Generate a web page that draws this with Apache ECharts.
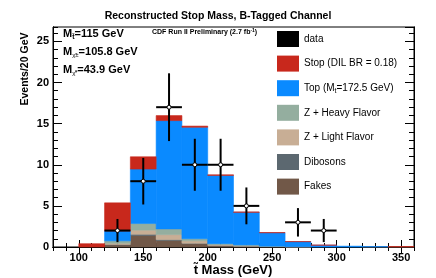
<!DOCTYPE html>
<html><head><meta charset="utf-8">
<script src="https://cdn.jsdelivr.net/npm/echarts@6/dist/echarts.min.js"></script>
<style>html,body{margin:0;padding:0;background:#fff}#c{width:436px;height:278px}</style>
</head><body><div id="c"></div>
<script>
// ---- data ----
const binEdges = [80,100,120,140,160,180,200,220,240,260,280,300,320,340,360];
const fakes    = [0, 0,    0.25, 1.4,  0.8,  0.4,  0.15, 0.08, 0.05, 0.02, 0,    0,    0.02, 0.02];
const dibosons = [0, 0,    0.05, 0.15, 0.1,  0.05, 0.03, 0.02, 0.01, 0,    0,    0,    0,    0];
const zLight   = [0, 0,    0.15, 0.5,  0.6,  0.3,  0.12, 0.1,  0.03, 0.01, 0,    0,    0,    0];
const zHeavy   = [0, 0,    0.3,  0.8,  0.7,  0.25, 0.1,  0.05, 0.01, 0,    0,    0,    0,    0];
const topQ     = [0, 0,    1.2,  6.63, 13.17,13.56,8.3,  3.97, 1.63, 0.62, 0.22, 0.1,  0.03, 0];
const stopQ    = [0, 0.4,  3.42, 1.49, 0.61, 0.14, 0.08, 0.04, 0.03, 0.01, 0.01, 0,    0,    0.04];
const dataX    = [130,150,170,190,210,230,270,290];
const dataY    = [2,8,17,10,10,5,3,2];
const dataErr  = [1.41,2.83,4.12,3.16,3.16,2.24,1.73,1.41];
const dataXErr = [10,10,10,10,10,10,10,10];
const xMajorTicks = [100,150,200,250,300,350];
const seriesNames = ['Fakes','Dibosons','Z + Light Flavor','Z + Heavy Flavor','Top','Stop (DIL BR = 0.18)'];
const seriesColors = ['#715848','#5c6870','#c8ae95','#94ae9f','#0a8aff','#c8281c'];
const legendOrder = ['data','Stop (DIL BR = 0.18)','Top','Z + Heavy Flavor','Z + Light Flavor','Dibosons','Fakes'];

const FONT = "'Liberation Sans', Arial, Helvetica, sans-serif";
const comps = [fakes, dibosons, zLight, zHeavy, topQ, stopQ];
const base = new Array(fakes.length).fill(0);
const stackSeries = comps.map((arr, ci) => {
  const items = arr.map((v, i) => {
    const b = base[i];
    base[i] += v;
    return [binEdges[i], binEdges[i+1], b, b + v];
  });
  return {
    type: 'custom', name: seriesNames[ci], xAxisIndex: 0, yAxisIndex: 0,
    itemStyle: {color: seriesColors[ci]},
    data: items, z: 2,
    renderItem: function(params, api) {
      const x0 = api.value(0), x1 = api.value(1), b = api.value(2), t = api.value(3);
      if (t - b <= 0) return null;
      const p0 = api.coord([x0, t]), p1 = api.coord([x1, b]);
      return {type: 'rect', shape: {x: p0[0], y: p0[1], width: p1[0]-p0[0], height: p1[1]-p0[1]},
              style: {fill: seriesColors[ci], stroke: seriesColors[ci], lineWidth: 0.6}};
    }
  };
});

const dataSeries = {
  type: 'custom', name: 'data', xAxisIndex: 0, yAxisIndex: 0, z: 5,
  itemStyle: {color: '#000'},
  data: dataX.map((x, i) => [x, dataY[i], dataErr[i], dataXErr[i]]),
  renderItem: function(params, api) {
    const x = api.value(0), y = api.value(1), e = api.value(2), hw = api.value(3);
    const c = api.coord([x, y]), l = api.coord([x-hw, y]), r = api.coord([x+hw, y]);
    const tp = api.coord([x, y+e]), bt = api.coord([x, y-e]);
    return {type: 'group', children: [
      {type: 'line', shape: {x1: l[0], y1: l[1], x2: r[0], y2: r[1]}, style: {stroke: '#000', lineWidth: 2}},
      {type: 'line', shape: {x1: tp[0], y1: tp[1], x2: bt[0], y2: bt[1]}, style: {stroke: '#000', lineWidth: 2}},
      {type: 'circle', shape: {cx: c[0], cy: c[1], r: 2}, style: {fill: '#fff', stroke: '#000', lineWidth: 1}}
    ]};
  }
};

const legendColors = {'data': '#000'};
seriesNames.forEach((n, i) => legendColors[n] = seriesColors[i]);

const xCommon = {type: 'value', min: 80, max: 360, splitLine: {show: false}, axisLine: {show: true, lineStyle: {color: '#000', width: 1}}};
const yCommon = {type: 'value', min: 0, max: 26.75, splitLine: {show: false}, axisLine: {show: true, lineStyle: {color: '#000', width: 1}}};

const option = {
  animation: false,
  backgroundColor: '#fff',
  title: {text: 'Reconstructed Stop Mass, B-Tagged Channel', left: 'center', top: 6,
          textStyle: {fontFamily: FONT, fontSize: 10.5, fontWeight: 'bold', color: '#000'}},
  grid: {left: 53, right: 22, top: 27, bottom: 31, show: true, borderColor: '#000', borderWidth: 1, backgroundColor: 'transparent'},
  legend: {
    orient: 'vertical', left: 277, top: 31, padding: 0, itemWidth: 22, itemHeight: 16, itemGap: 8.6,
    selectedMode: false,
    data: legendOrder.map(n => ({name: n, icon: 'rect', itemStyle: {color: legendColors[n]}})),
    formatter: function(name) { return name === 'Top' ? 'Top (M{s|t}=172.5 GeV)' : name; },
    textStyle: {fontFamily: FONT, fontSize: 10, color: '#000', padding: [0,0,0,0],
                rich: {s: {fontFamily: FONT, fontSize: 7, padding: [6,0,0,0], color: '#000'}}}
  },
  xAxis: [
    Object.assign({}, xCommon, {position: 'bottom',
      axisTick: {inside: true, length: 7, customValues: xMajorTicks, lineStyle: {color: '#000'}},
      axisLabel: {customValues: xMajorTicks, margin: 5, fontFamily: FONT, fontSize: 11, fontWeight: 'bold', color: '#000'}}),
    Object.assign({}, xCommon, {position: 'bottom', interval: 10,
      axisTick: {inside: true, length: 4, lineStyle: {color: '#000'}}, axisLabel: {show: false}}),
    Object.assign({}, xCommon, {position: 'top',
      axisTick: {inside: true, length: 7, customValues: xMajorTicks, lineStyle: {color: '#000'}}, axisLabel: {show: false}}),
    Object.assign({}, xCommon, {position: 'top', interval: 10,
      axisTick: {inside: true, length: 4, lineStyle: {color: '#000'}}, axisLabel: {show: false}})
  ],
  yAxis: [
    Object.assign({}, yCommon, {position: 'left', interval: 5,
      axisTick: {inside: true, length: 9, lineStyle: {color: '#000'}},
      axisLabel: {margin: 4, showMaxLabel: false, fontFamily: FONT, fontSize: 11, fontWeight: 'bold', color: '#000'}}),
    Object.assign({}, yCommon, {position: 'left', interval: 1,
      axisTick: {inside: true, length: 5, lineStyle: {color: '#000'}}, axisLabel: {show: false}}),
    Object.assign({}, yCommon, {position: 'right', interval: 5,
      axisTick: {inside: true, length: 9, lineStyle: {color: '#000'}}, axisLabel: {show: false}}),
    Object.assign({}, yCommon, {position: 'right', interval: 1,
      axisTick: {inside: true, length: 5, lineStyle: {color: '#000'}}, axisLabel: {show: false}})
  ],
  graphic: [
    {type: 'text', left: 152, top: 28, style: {text: 'CDF Run II Preliminary (2.7 fb{sup|-1})', fontFamily: FONT, fontSize: 7, fontWeight: 'bold', fill: '#000',
      rich: {sup: {fontFamily: FONT, fontSize: 5, fontWeight: 'bold', padding: [0,0,4,0]}}}},
    {type: 'text', left: 63, top: 28, style: {text: 'M{s|t\u0303}=115 GeV', fontFamily: FONT, fontSize: 11, fontWeight: 'bold', fill: '#000',
      rich: {s: {fontFamily: FONT, fontSize: 7, fontWeight: 'bold', padding: [7,0,0,0]}}}},
    {type: 'text', left: 63, top: 46, style: {text: 'M{s|\u03C7\u0303\u00B1}=105.8 GeV', fontFamily: FONT, fontSize: 11, fontWeight: 'bold', fill: '#000',
      rich: {s: {fontFamily: FONT, fontSize: 6, fontWeight: 'normal', padding: [8,0,0,0]}}}},
    {type: 'text', left: 63, top: 64, style: {text: 'M{s|\u03C7\u0303\u2070}=43.9 GeV', fontFamily: FONT, fontSize: 11, fontWeight: 'bold', fill: '#000',
      rich: {s: {fontFamily: FONT, fontSize: 6, fontWeight: 'normal', padding: [8,0,0,0]}}}},
    {type: 'text', x: 233, y: 270, style: {text: 't\u0303 Mass (GeV)', fontFamily: FONT, fontSize: 13, fontWeight: 'bold', fill: '#000', align: 'center', verticalAlign: 'middle'}},
    {type: 'text', x: 25, y: 69, rotation: Math.PI/2, style: {text: 'Events/20 GeV', fontFamily: FONT, fontSize: 10.5, fontWeight: 'bold', fill: '#000', align: 'center', verticalAlign: 'middle'}}
  ],
  series: stackSeries.concat([dataSeries])
};
const chart = echarts.init(document.getElementById('c'), null, {renderer: 'canvas'});
chart.setOption(option);
</script>
</body></html>
